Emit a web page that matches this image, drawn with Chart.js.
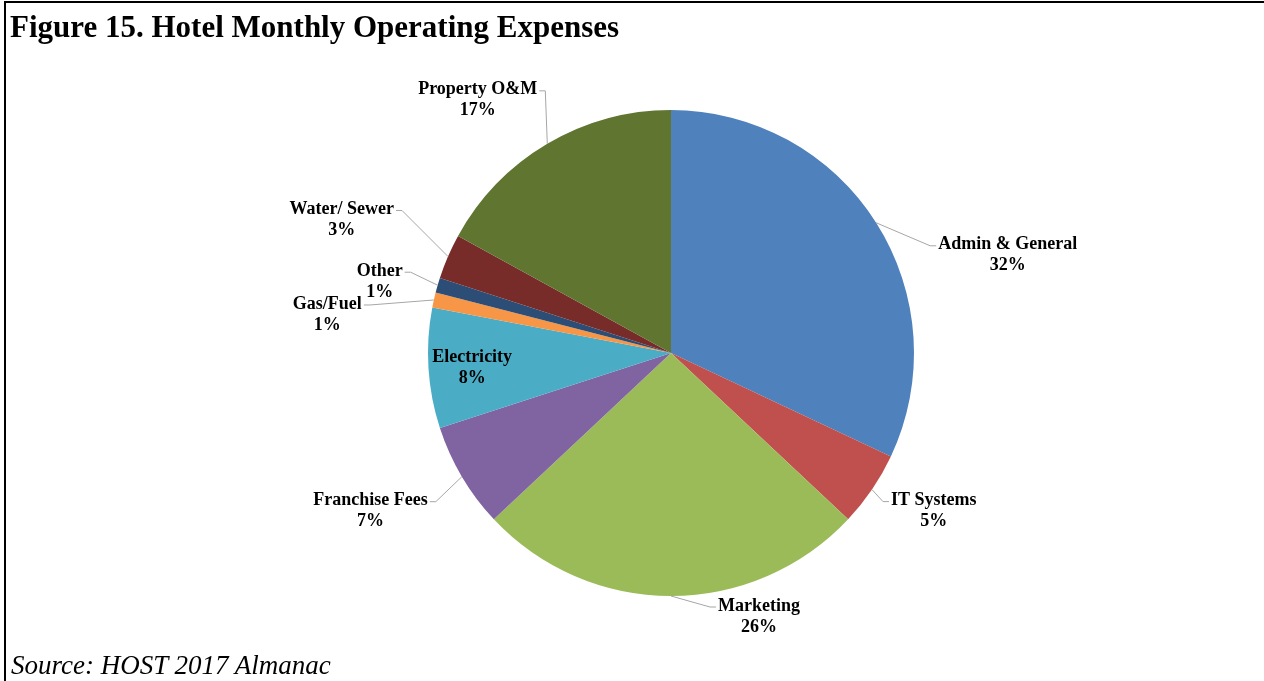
<!DOCTYPE html>
<html>
<head>
<meta charset="utf-8">
<title>Hotel Monthly Operating Expenses</title>
<script src="https://cdn.jsdelivr.net/npm/chart.js@4.4.1/dist/chart.umd.min.js"></script>
<style>
    html, body { margin: 0; padding: 0; background: #fff; }
    #wrap { position: relative; width: 1264px; height: 681px; overflow: hidden; }
    #frame {
        position: absolute; left: 4px; top: 1px; right: 0; bottom: 0;
        border-top: 2px solid #000; border-left: 2px solid #000;
    }
    #title {
        position: absolute; left: 10px; top: 11px;
        font: bold 31px/31px "Liberation Serif", "Times New Roman", serif;
        color: #000; white-space: nowrap;
    }
    #source {
        position: absolute; left: 11px; top: 652px;
        font: italic 27px/27px "Liberation Serif", "Times New Roman", serif;
        color: #000; white-space: nowrap;
    }
    #chart { position: absolute; left: 0; top: 0; }
</style>
</head>
<body>
<div id="wrap">
    <div id="frame"></div>
    <canvas id="chart" width="1264" height="681"></canvas>
    <div id="title">Figure 15. Hotel Monthly Operating Expenses</div>
    <div id="source">Source: HOST 2017 Almanac</div>
</div>

<script>
// Categorias e valores (%)
const categories = ['Admin & General', 'IT Systems', 'Marketing', 'Franchise Fees', 'Electricity',
    'Gas/Fuel', 'Other', 'Water/ Sewer', 'Property O&M'];
const shares = [32, 5, 26, 7, 8, 1, 1, 3, 17];
const sliceColors = ['#4F81BD', '#C0504D', '#9BBB59', '#8064A2', '#4BACC6',
    '#F79646', '#2C4D75', '#772C2A', '#5F7530'];

// Posição do cotovelo da linha guia em relação à borda da fatia (null = rótulo interno)
const labelOffsets = [
    [54, 23], [11, 12], [39, 11], [-26, 25], null,
    [-64, 5], [-27, -13], [-46, -46], [-2, -53]
];

const LABEL_FONT = 'bold 18px "Liberation Serif", "Times New Roman", serif';
const LINE_GAP = 21;

// Desenha os rótulos com linhas guia
const pieLabels = {
    id: 'pieLabels',
    afterDatasetsDraw(chart) {
        const ctx = chart.ctx;
        const arcs = chart.getDatasetMeta(0).data;
        ctx.save();
        ctx.font = LABEL_FONT;
        ctx.textBaseline = 'middle';
        ctx.textAlign = 'center';
        ctx.fillStyle = '#000';

        arcs.forEach((arc, i) => {
            const mid = (arc.startAngle + arc.endAngle) / 2;
            const R = arc.outerRadius;
            const lines = [categories[i], shares[i] + '%'];
            const w = Math.max(...lines.map(t => ctx.measureText(t).width));
            const off = labelOffsets[i];

            if (!off) {
                const cx = arc.x + Math.cos(mid) * R * 0.82;
                const cy = arc.y + Math.sin(mid) * R * 0.82 + 2;
                ctx.fillText(lines[0], cx, cy - LINE_GAP / 2);
                ctx.fillText(lines[1], cx, cy + LINE_GAP / 2);
                return;
            }

            const px = arc.x + Math.cos(mid) * R;
            const py = arc.y + Math.sin(mid) * R;
            const ex = px + off[0];
            const ey = py + off[1];
            const side = off[0] >= 0 ? 1 : -1;

            ctx.strokeStyle = '#A6A6A6';
            ctx.lineWidth = 1;
            ctx.beginPath();
            ctx.moveTo(px, py);
            ctx.lineTo(ex, ey);
            ctx.lineTo(ex + 6 * side, ey);
            ctx.stroke();

            const edge = ex + 8 * side;
            const cx = side > 0 ? edge + w / 2 : edge - w / 2;
            ctx.fillText(lines[0], cx, ey - 1);
            ctx.fillText(lines[1], cx, ey - 1 + LINE_GAP);
        });
        ctx.restore();
    }
};

new Chart(document.getElementById('chart'), {
    type: 'pie',
    data: {
        labels: categories,
        datasets: [{
            data: shares,
            backgroundColor: sliceColors,
            borderWidth: 0
        }]
    },
    options: {
        responsive: false,
        animation: false,
        layout: { padding: { left: 428, right: 350, top: 110, bottom: 85 } },
        plugins: {
            legend: { display: false },
            tooltip: { enabled: false }
        }
    },
    plugins: [pieLabels]
});
</script>
</body>
</html>
